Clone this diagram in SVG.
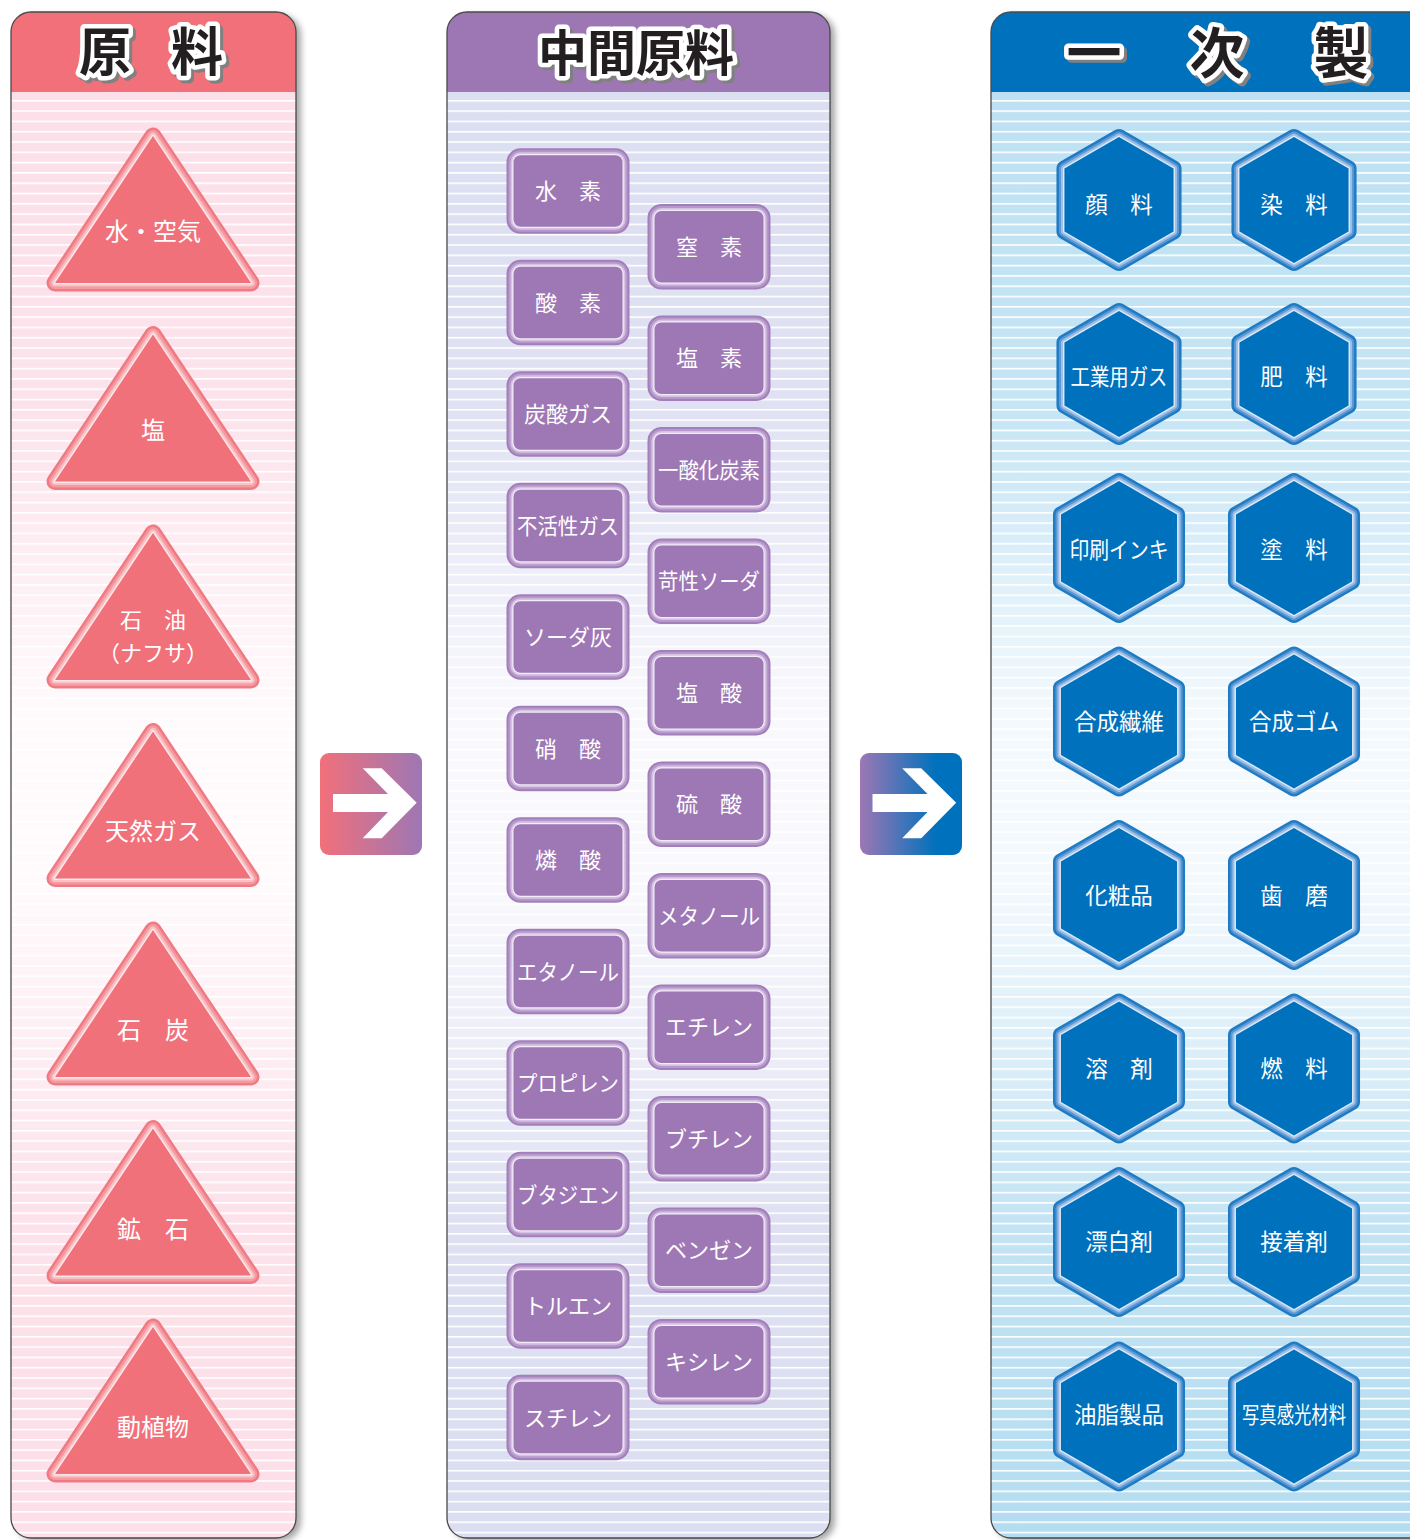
<svg xmlns="http://www.w3.org/2000/svg" xmlns:xlink="http://www.w3.org/1999/xlink" width="1410" height="1540" viewBox="0 0 1410 1540">
<style>
.jp{font-family:"Noto Sans CJK JP","Noto Sans",sans-serif}
.lbl{font-family:"Noto Sans CJK JP","Noto Sans",sans-serif;fill:#fff;text-anchor:middle}
.t24{font-size:24px}
.t22{font-size:22px}
.hd{font-family:"Noto Sans CJK JP","Noto Sans",sans-serif;font-weight:700;text-anchor:middle}
.hsh{fill:#808080;stroke:#808080;stroke-width:9;stroke-linejoin:round;paint-order:stroke}
.hfg{fill:#231f20;stroke:#fff;stroke-width:9;stroke-linejoin:round;paint-order:stroke}
.outline{fill:none;stroke:#4a4a4a;stroke-width:1.3}
.arrowW{fill:#fff}
</style>
<defs>
<filter id="shadow" x="-10%" y="-5%" width="125%" height="115%">
<feDropShadow dx="5" dy="3" stdDeviation="3" flood-color="#000" flood-opacity="0.35"/>
</filter>
<pattern id="stripes" patternUnits="userSpaceOnUse" x="0" y="100" width="20" height="10.3">
<rect x="0" y="0" width="20" height="1.6" fill="#fff"/>
</pattern>
<linearGradient id="gPink" gradientUnits="userSpaceOnUse" x1="0" y1="92" x2="0" y2="1538">
<stop offset="0" stop-color="#fcdfe9"/>
<stop offset="0.22" stop-color="#fce3eb"/>
<stop offset="0.43" stop-color="#fffafc"/>
<stop offset="0.55" stop-color="#fffafc"/>
<stop offset="0.78" stop-color="#fce2ea"/>
<stop offset="1" stop-color="#fcdfe9"/>
</linearGradient>
<linearGradient id="gPurple" gradientUnits="userSpaceOnUse" x1="0" y1="92" x2="0" y2="1538">
<stop offset="0" stop-color="#dcdff1"/>
<stop offset="0.22" stop-color="#e0e2f3"/>
<stop offset="0.43" stop-color="#f9f9fd"/>
<stop offset="0.55" stop-color="#f9f9fd"/>
<stop offset="0.78" stop-color="#dfe1f2"/>
<stop offset="1" stop-color="#dadef0"/>
</linearGradient>
<linearGradient id="gBlue" gradientUnits="userSpaceOnUse" x1="0" y1="92" x2="0" y2="1538">
<stop offset="0" stop-color="#bde1f3"/>
<stop offset="0.22" stop-color="#c6e5f5"/>
<stop offset="0.43" stop-color="#f3f9fd"/>
<stop offset="0.55" stop-color="#f3f9fd"/>
<stop offset="0.78" stop-color="#c4e4f4"/>
<stop offset="1" stop-color="#b4dcf0"/>
</linearGradient>
<linearGradient id="gArrow1" x1="0" y1="0" x2="1" y2="0">
<stop offset="0" stop-color="#f1707a"/>
<stop offset="1" stop-color="#9d77b4"/>
</linearGradient>
<linearGradient id="gArrow2" x1="0" y1="0" x2="1" y2="0">
<stop offset="0" stop-color="#9d77b4"/>
<stop offset="0.75" stop-color="#0071bc"/>
<stop offset="1" stop-color="#0071bc"/>
</linearGradient>
<path id="triP" d="M153,136 L251,283 L55,283 Z"/>
<g id="tri">
<use xlink:href="#triP" href="#triP" fill="none" stroke="#f07a83" stroke-width="17" stroke-linejoin="round"/>
<use xlink:href="#triP" href="#triP" fill="none" stroke="#f59aa1" stroke-width="12" stroke-linejoin="round"/>
<use xlink:href="#triP" href="#triP" fill="none" stroke="#f9c2c6" stroke-width="7" stroke-linejoin="round"/>
<use xlink:href="#triP" href="#triP" fill="none" stroke="#fde7e9" stroke-width="3" stroke-linejoin="round"/>
<use xlink:href="#triP" href="#triP" fill="#f1717b"/>
</g>
<rect id="boxP" x="0" y="0" width="109" height="71.5" rx="7"/>
<g id="box">
<use xlink:href="#boxP" href="#boxP" fill="none" stroke="#a27fba" stroke-width="14"/>
<use xlink:href="#boxP" href="#boxP" fill="none" stroke="#b798cb" stroke-width="10"/>
<use xlink:href="#boxP" href="#boxP" fill="none" stroke="#d5c3e3" stroke-width="6"/>
<use xlink:href="#boxP" href="#boxP" fill="none" stroke="#f3ecf8" stroke-width="2.5"/>
<use xlink:href="#boxP" href="#boxP" fill="#9e77b5"/>
</g>
<path id="hexS" d="M0,-63 L54.56,-31.5 L54.56,31.5 L0,63 L-54.56,31.5 L-54.56,-31.5 Z"/>
<path id="hexL" d="M0,-67 L58.02,-33.5 L58.02,33.5 L0,67 L-58.02,33.5 L-58.02,-33.5 Z"/>
<g id="hexSmall">
<use xlink:href="#hexS" href="#hexS" fill="none" stroke="#1f7cc4" stroke-width="16" stroke-linejoin="round"/>
<use xlink:href="#hexS" href="#hexS" fill="none" stroke="#5b98d3" stroke-width="11" stroke-linejoin="round"/>
<use xlink:href="#hexS" href="#hexS" fill="none" stroke="#9dbfe7" stroke-width="7" stroke-linejoin="round"/>
<use xlink:href="#hexS" href="#hexS" fill="none" stroke="#dbe8f7" stroke-width="3" stroke-linejoin="round"/>
<use xlink:href="#hexS" href="#hexS" fill="#0071bc"/>
</g>
<g id="hexLarge">
<use xlink:href="#hexL" href="#hexL" fill="none" stroke="#1f7cc4" stroke-width="16" stroke-linejoin="round"/>
<use xlink:href="#hexL" href="#hexL" fill="none" stroke="#5b98d3" stroke-width="11" stroke-linejoin="round"/>
<use xlink:href="#hexL" href="#hexL" fill="none" stroke="#9dbfe7" stroke-width="7" stroke-linejoin="round"/>
<use xlink:href="#hexL" href="#hexL" fill="none" stroke="#dbe8f7" stroke-width="3" stroke-linejoin="round"/>
<use xlink:href="#hexL" href="#hexL" fill="#0071bc"/>
</g>
<path id="arrowShape" d="M333,794 H388 L362.7,768.3 H381.7 L416.7,802.7 L381.7,838.3 H362.7 L388,812 H333 Z"/>
</defs>

<rect width="1410" height="1540" fill="#fff"/>

<!-- Column 1: 原料 -->
<g id="col-raw">
<rect x="11" y="12" width="285" height="1526" rx="20" fill="url(#gPink)" filter="url(#shadow)"/>
<rect x="11" y="12" width="285" height="1526" rx="20" fill="url(#stripes)"/>
<path d="M11,92 V32 A20,20 0 0 1 31,12 H276 A20,20 0 0 1 296,32 V92 Z" fill="#f1707a"/>
<rect x="11" y="12" width="285" height="1526" rx="20" class="outline"/>
<text class="hd hsh" x="108" y="74" font-size="52">原</text>
<text class="hd hsh" x="200" y="74" font-size="52">料</text>
<text class="hd hfg" x="105" y="71" font-size="52">原</text>
<text class="hd hfg" x="197" y="71" font-size="52">料</text>
</g>

<!-- Column 2: 中間原料 -->
<g id="col-intermediate">
<rect x="447" y="12" width="383" height="1526" rx="20" fill="url(#gPurple)" filter="url(#shadow)"/>
<rect x="447" y="12" width="383" height="1526" rx="20" fill="url(#stripes)"/>
<path d="M447,92 V32 A20,20 0 0 1 467,12 H810 A20,20 0 0 1 830,32 V92 Z" fill="#9d77b4"/>
<rect x="447" y="12" width="383" height="1526" rx="20" class="outline"/>
<text class="hd hsh" x="639" y="74" font-size="49">中間原料</text>
<text class="hd hfg" x="636" y="71" font-size="49">中間原料</text>
</g>

<!-- Column 3: 一次製品 -->
<g id="col-primary">
<rect x="991" y="12" width="460" height="1526" rx="20" fill="url(#gBlue)" filter="url(#shadow)"/>
<rect x="991" y="12" width="460" height="1526" rx="20" fill="url(#stripes)"/>
<path d="M991,92 V32 A20,20 0 0 1 1011,12 H1451 V92 Z" fill="#0071bc"/>
<rect x="991" y="12" width="460" height="1526" rx="20" class="outline"/>
<text class="hd hsh" x="1097" y="76" font-size="55">一</text>
<text class="hd hsh" x="1220" y="76" font-size="55">次</text>
<text class="hd hsh" x="1344" y="76" font-size="55">製</text>
<text class="hd hfg" x="1094" y="73" font-size="55">一</text>
<text class="hd hfg" x="1217" y="73" font-size="55">次</text>
<text class="hd hfg" x="1341" y="73" font-size="55">製</text>
</g>

<!-- Raw material triangles -->
<g id="raw-1"><use xlink:href="#tri" href="#tri"/><text class="lbl t24" x="153" y="240">水・空気</text></g>
<g id="raw-2"><use xlink:href="#tri" href="#tri" transform="translate(0,198.5)"/><text class="lbl t24" x="153" y="439">塩</text></g>
<g id="raw-3"><use xlink:href="#tri" href="#tri" transform="translate(0,397)"/><text class="lbl t22" x="153" y="628">石　油</text><text class="lbl t22" x="153" y="661">（ナフサ）</text></g>
<g id="raw-4"><use xlink:href="#tri" href="#tri" transform="translate(0,595.5)"/><text class="lbl t24" x="153" y="840">天然ガス</text></g>
<g id="raw-5"><use xlink:href="#tri" href="#tri" transform="translate(0,794)"/><text class="lbl t24" x="153" y="1039">石　炭</text></g>
<g id="raw-6"><use xlink:href="#tri" href="#tri" transform="translate(0,992.5)"/><text class="lbl t24" x="153" y="1238">鉱　石</text></g>
<g id="raw-7"><use xlink:href="#tri" href="#tri" transform="translate(0,1191)"/><text class="lbl t24" x="153" y="1436">動植物</text></g>

<!-- Arrows -->
<g id="connectors">
<g id="arrow-1">
<rect x="320" y="753" width="102" height="102" rx="9" fill="url(#gArrow1)"/>
<use xlink:href="#arrowShape" href="#arrowShape" class="arrowW"/>
</g>
<g id="arrow-2">
<rect x="860" y="753" width="102" height="102" rx="9" fill="url(#gArrow2)"/>
<use xlink:href="#arrowShape" href="#arrowShape" class="arrowW" transform="translate(539.5,0)"/>
</g>
</g>

<!-- Intermediate boxes, left column -->
<g id="mid-L1"><use xlink:href="#box" href="#box" transform="translate(513.5,155.3)"/><text class="lbl t22" x="568" y="199">水　素</text></g>
<g id="mid-L2"><use xlink:href="#box" href="#box" transform="translate(513.5,266.8)"/><text class="lbl t22" x="568" y="311">酸　素</text></g>
<g id="mid-L3"><use xlink:href="#box" href="#box" transform="translate(513.5,378.3)"/><text class="lbl t22" x="568" y="422">炭酸ガス</text></g>
<g id="mid-L4"><use xlink:href="#box" href="#box" transform="translate(513.5,489.8)"/><text class="lbl t22" x="568" y="534" textLength="102" lengthAdjust="spacingAndGlyphs">不活性ガス</text></g>
<g id="mid-L5"><use xlink:href="#box" href="#box" transform="translate(513.5,601.3)"/><text class="lbl t22" x="568" y="645">ソーダ灰</text></g>
<g id="mid-L6"><use xlink:href="#box" href="#box" transform="translate(513.5,712.8)"/><text class="lbl t22" x="568" y="757">硝　酸</text></g>
<g id="mid-L7"><use xlink:href="#box" href="#box" transform="translate(513.5,824.3)"/><text class="lbl t22" x="568" y="868">燐　酸</text></g>
<g id="mid-L8"><use xlink:href="#box" href="#box" transform="translate(513.5,935.8)"/><text class="lbl t22" x="568" y="980" textLength="102" lengthAdjust="spacingAndGlyphs">エタノール</text></g>
<g id="mid-L9"><use xlink:href="#box" href="#box" transform="translate(513.5,1047.3)"/><text class="lbl t22" x="568" y="1091" textLength="102" lengthAdjust="spacingAndGlyphs">プロピレン</text></g>
<g id="mid-L10"><use xlink:href="#box" href="#box" transform="translate(513.5,1158.8)"/><text class="lbl t22" x="568" y="1203" textLength="102" lengthAdjust="spacingAndGlyphs">ブタジエン</text></g>
<g id="mid-L11"><use xlink:href="#box" href="#box" transform="translate(513.5,1270.3)"/><text class="lbl t22" x="568" y="1314">トルエン</text></g>
<g id="mid-L12"><use xlink:href="#box" href="#box" transform="translate(513.5,1381.8)"/><text class="lbl t22" x="568" y="1426">スチレン</text></g>

<!-- Intermediate boxes, right column -->
<g id="mid-R1"><use xlink:href="#box" href="#box" transform="translate(654.5,211)"/><text class="lbl t22" x="709" y="255">窒　素</text></g>
<g id="mid-R2"><use xlink:href="#box" href="#box" transform="translate(654.5,322.5)"/><text class="lbl t22" x="709" y="366">塩　素</text></g>
<g id="mid-R3"><use xlink:href="#box" href="#box" transform="translate(654.5,434)"/><text class="lbl t22" x="709" y="478" textLength="102" lengthAdjust="spacingAndGlyphs">一酸化炭素</text></g>
<g id="mid-R4"><use xlink:href="#box" href="#box" transform="translate(654.5,545.5)"/><text class="lbl t22" x="709" y="589" textLength="102" lengthAdjust="spacingAndGlyphs">苛性ソーダ</text></g>
<g id="mid-R5"><use xlink:href="#box" href="#box" transform="translate(654.5,657)"/><text class="lbl t22" x="709" y="701">塩　酸</text></g>
<g id="mid-R6"><use xlink:href="#box" href="#box" transform="translate(654.5,768.5)"/><text class="lbl t22" x="709" y="812">硫　酸</text></g>
<g id="mid-R7"><use xlink:href="#box" href="#box" transform="translate(654.5,880)"/><text class="lbl t22" x="709" y="924" textLength="102" lengthAdjust="spacingAndGlyphs">メタノール</text></g>
<g id="mid-R8"><use xlink:href="#box" href="#box" transform="translate(654.5,991.5)"/><text class="lbl t22" x="709" y="1035">エチレン</text></g>
<g id="mid-R9"><use xlink:href="#box" href="#box" transform="translate(654.5,1103)"/><text class="lbl t22" x="709" y="1147">ブチレン</text></g>
<g id="mid-R10"><use xlink:href="#box" href="#box" transform="translate(654.5,1214.5)"/><text class="lbl t22" x="709" y="1258">ベンゼン</text></g>
<g id="mid-R11"><use xlink:href="#box" href="#box" transform="translate(654.5,1326)"/><text class="lbl t22" x="709" y="1370">キシレン</text></g>

<!-- Primary product hexagons -->
<g id="prod-1"><use xlink:href="#hexSmall" href="#hexSmall" transform="translate(1119,200)"/><text class="lbl" font-size="22.5" x="1119" y="212.5">顔　料</text></g>
<g id="prod-2"><use xlink:href="#hexSmall" href="#hexSmall" transform="translate(1294,200)"/><text class="lbl" font-size="22.5" x="1294" y="212.5">染　料</text></g>
<g id="prod-3"><use xlink:href="#hexSmall" href="#hexSmall" transform="translate(1119,374)"/><text class="lbl" font-size="22.5" x="1119" y="384.5" textLength="97" lengthAdjust="spacingAndGlyphs">工業用ガス</text></g>
<g id="prod-4"><use xlink:href="#hexSmall" href="#hexSmall" transform="translate(1294,374)"/><text class="lbl" font-size="22.5" x="1294" y="384.5">肥　料</text></g>
<g id="prod-5"><use xlink:href="#hexLarge" href="#hexLarge" transform="translate(1119,548)"/><text class="lbl" font-size="22.5" x="1119" y="557.5" textLength="99" lengthAdjust="spacingAndGlyphs">印刷インキ</text></g>
<g id="prod-6"><use xlink:href="#hexLarge" href="#hexLarge" transform="translate(1294,548)"/><text class="lbl" font-size="22.5" x="1294" y="557.5">塗　料</text></g>
<g id="prod-7"><use xlink:href="#hexLarge" href="#hexLarge" transform="translate(1119,721.5)"/><text class="lbl" font-size="22.5" x="1119" y="729.5">合成繊維</text></g>
<g id="prod-8"><use xlink:href="#hexLarge" href="#hexLarge" transform="translate(1294,721.5)"/><text class="lbl" font-size="22.5" x="1294" y="729.5">合成ゴム</text></g>
<g id="prod-9"><use xlink:href="#hexLarge" href="#hexLarge" transform="translate(1119,895)"/><text class="lbl" font-size="22.5" x="1119" y="903.5">化粧品</text></g>
<g id="prod-10"><use xlink:href="#hexLarge" href="#hexLarge" transform="translate(1294,895)"/><text class="lbl" font-size="22.5" x="1294" y="903.5">歯　磨</text></g>
<g id="prod-11"><use xlink:href="#hexLarge" href="#hexLarge" transform="translate(1119,1068.5)"/><text class="lbl" font-size="22.5" x="1119" y="1076.5">溶　剤</text></g>
<g id="prod-12"><use xlink:href="#hexLarge" href="#hexLarge" transform="translate(1294,1068.5)"/><text class="lbl" font-size="22.5" x="1294" y="1076.5">燃　料</text></g>
<g id="prod-13"><use xlink:href="#hexLarge" href="#hexLarge" transform="translate(1119,1242)"/><text class="lbl" font-size="22.5" x="1119" y="1249.5">漂白剤</text></g>
<g id="prod-14"><use xlink:href="#hexLarge" href="#hexLarge" transform="translate(1294,1242)"/><text class="lbl" font-size="22.5" x="1294" y="1249.5">接着剤</text></g>
<g id="prod-15"><use xlink:href="#hexLarge" href="#hexLarge" transform="translate(1119,1416.5)"/><text class="lbl" font-size="22.5" x="1119" y="1422.5">油脂製品</text></g>
<g id="prod-16"><use xlink:href="#hexLarge" href="#hexLarge" transform="translate(1294,1416.5)"/><text class="lbl" font-size="22.5" x="1294" y="1422.5" textLength="104" lengthAdjust="spacingAndGlyphs">写真感光材料</text></g>
</svg>
